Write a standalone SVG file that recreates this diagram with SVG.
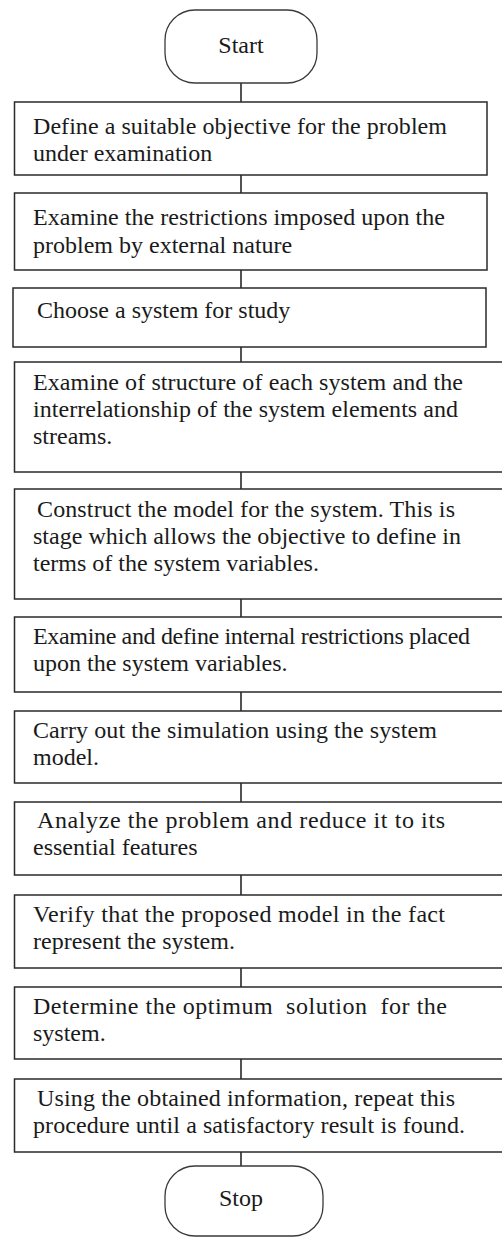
<svg xmlns="http://www.w3.org/2000/svg" width="502" height="1237" viewBox="0 0 502 1237">
<style>
.box{fill:#fff;stroke:#2a2a2a;stroke-width:1.5}
.term{fill:#fff;stroke:#3a3a3a;stroke-width:1.3}
.t{font-family:"Liberation Serif","Times New Roman",serif;font-size:24px;fill:#1a1a1a}
.c{text-anchor:middle}
.conn line{stroke:#1a1a1a;stroke-width:1.5}
</style>
<rect width="502" height="1237" fill="#fff"/>
<g class="conn">
<line x1="241" y1="83" x2="241" y2="102"/>
<line x1="241" y1="175" x2="241" y2="193"/>
<line x1="241" y1="270" x2="241" y2="288"/>
<line x1="241" y1="347" x2="241" y2="362"/>
<line x1="241" y1="472" x2="241" y2="489"/>
<line x1="241" y1="599" x2="241" y2="617"/>
<line x1="241" y1="692" x2="241" y2="711"/>
<line x1="241" y1="783" x2="241" y2="802"/>
<line x1="241" y1="875" x2="241" y2="895"/>
<line x1="241" y1="968" x2="241" y2="987"/>
<line x1="241" y1="1059" x2="241" y2="1079"/>
<line x1="241" y1="1152" x2="241" y2="1166"/>
</g>
<g id="start">
<rect class="term" x="165" y="10" width="152" height="73" rx="30" ry="30"/>
<text class="t c" x="241" y="53" font-size="22">Start</text>
</g>
<g id="n1">
<rect class="box" x="14.5" y="102" width="472.5" height="73"/>
<text class="t" x="33" y="134" textLength="414">Define a suitable objective for the problem</text>
<text class="t" x="33" y="161">under examination</text>
</g>
<g id="n2">
<rect class="box" x="14.5" y="193" width="472.5" height="77"/>
<text class="t" x="33" y="225" textLength="412">Examine the restrictions imposed upon the</text>
<text class="t" x="33" y="253">problem by external nature</text>
</g>
<g id="n3">
<rect class="box" x="13" y="288" width="473" height="59"/>
<text class="t" x="37" y="318">Choose a system for study</text>
</g>
<g id="n4">
<rect class="box" x="14.5" y="362" width="490" height="110"/>
<text class="t" x="33" y="390" textLength="430">Examine of structure of each system and the</text>
<text class="t" x="33" y="417" textLength="425">interrelationship of the system elements and</text>
<text class="t" x="33" y="444">streams.</text>
</g>
<g id="n5">
<rect class="box" x="14.5" y="489" width="490" height="110"/>
<text class="t" x="37" y="517" textLength="418">Construct the model for the system. This is</text>
<text class="t" x="33" y="544" textLength="428">stage which allows the objective to define in</text>
<text class="t" x="33" y="571">terms of the system variables.</text>
</g>
<g id="n6">
<rect class="box" x="14.5" y="617" width="490" height="75"/>
<text class="t" x="33" y="644" textLength="437">Examine and define internal restrictions placed</text>
<text class="t" x="33" y="671">upon the system variables.</text>
</g>
<g id="n7">
<rect class="box" x="14.5" y="711" width="490" height="72"/>
<text class="t" x="33" y="738" textLength="404">Carry out the simulation using the system</text>
<text class="t" x="33" y="765">model.</text>
</g>
<g id="n8">
<rect class="box" x="14.5" y="802" width="490" height="73"/>
<text class="t" x="37" y="828" textLength="408">Analyze the problem and reduce it to its</text>
<text class="t" x="33" y="855">essential features</text>
</g>
<g id="n9">
<rect class="box" x="14.5" y="895" width="490" height="73"/>
<text class="t" x="33" y="922" textLength="412">Verify that the proposed model in the fact</text>
<text class="t" x="33" y="949">represent the system.</text>
</g>
<g id="n10">
<rect class="box" x="14.5" y="987" width="490" height="72"/>
<text class="t" x="33" y="1014" textLength="414" xml:space="preserve">Determine the optimum  solution  for the</text>
<text class="t" x="33" y="1041">system.</text>
</g>
<g id="n11">
<rect class="box" x="14.5" y="1079" width="490" height="73"/>
<text class="t" x="37" y="1106" textLength="418">Using the obtained information, repeat this</text>
<text class="t" x="33" y="1133" textLength="432">procedure until a satisfactory result is found.</text>
</g>
<g id="stop">
<rect class="term" x="165" y="1166" width="158" height="70" rx="30" ry="30"/>
<text class="t c" x="241" y="1206" font-size="22">Stop</text>
</g>
</svg>
